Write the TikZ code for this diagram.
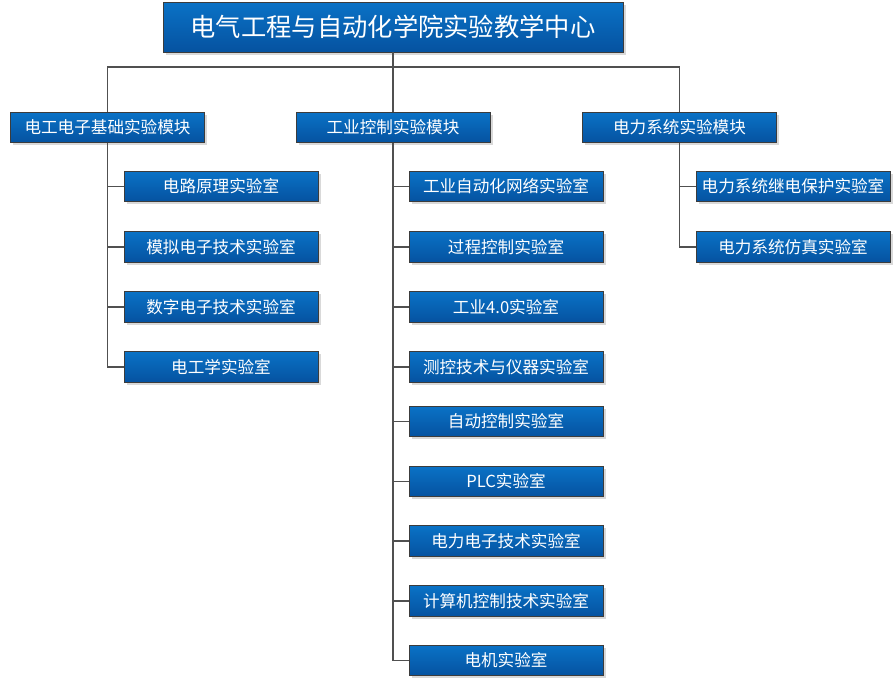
\documentclass[tikz,border=0pt]{standalone}
\usepackage{fontspec}
\newfontfamily\cjk{Noto Sans CJK SC}
\usetikzlibrary{shadows}
\definecolor{boxtop}{HTML}{0A72C6}
\definecolor{boxbot}{HTML}{0552A0}
\definecolor{boxline}{HTML}{3C3C3C}
\definecolor{conn}{HTML}{505050}
\tikzset{
  box/.style={draw=boxline, line width=0.9pt, top color=boxtop, bottom color=boxbot,
    text=white, inner sep=0pt, minimum width=194pt, minimum height=30.5pt,
    font=\cjk\fontsize{16.6}{18}\selectfont,
    drop shadow={shadow xshift=2.5pt, shadow yshift=-2.5pt, fill=black!25, opacity=0.6}},
  titlebox/.style={box, minimum width=460pt, minimum height=50pt,
    font=\cjk\fontsize{25.3}{28}\selectfont},
  conn/.style={draw=conn, line width=1.2pt}
}
\begin{document}
\begin{tikzpicture}[x=1pt,y=-1pt]
\useasboundingbox (0,0) rectangle (896,688);
% title
\node[titlebox] (top) at (393,27) {电气工程与自动化学院实验教学中心};
% modules
\node[box] (m1) at (107.5,127.5) {电工电子基础实验模块};
\node[box] (m2) at (393,127.5) {工业控制实验模块};
\node[box] (m3) at (679.5,127.5) {电力系统实验模块};
% left children
\node[box] (a1) at (221,186.5) {电路原理实验室};
\node[box] (a2) at (221,247) {模拟电子技术实验室};
\node[box] (a3) at (221,307) {数字电子技术实验室};
\node[box] (a4) at (221,367) {电工学实验室};
% middle children
\node[box] (b1) at (506,186.5) {工业自动化网络实验室};
\node[box] (b2) at (506,247) {过程控制实验室};
\node[box] (b3) at (506,307) {工业4.0实验室};
\node[box] (b4) at (506,367) {测控技术与仪器实验室};
\node[box] (b5) at (506,421.5) {自动控制实验室};
\node[box] (b6) at (506,481.5) {PLC实验室};
\node[box] (b7) at (506,541) {电力电子技术实验室};
\node[box] (b8) at (506,601) {计算机控制技术实验室};
\node[box] (b9) at (506,660.5) {电机实验室};
% right children
\node[box] (c1) at (793,186.5) {电力系统继电保护实验室};
\node[box] (c2) at (793,247) {电力系统仿真实验室};
% connectors
\coordinate (bus) at (393,67);
\draw[conn] (top.south) -- (m2.north);
\draw[conn] (bus) -| (m1.north);
\draw[conn] (bus) -| (m3.north);
\foreach \n in {a1,a2,a3,a4} \draw[conn] (m1.south) |- (\n.west);
\foreach \n in {b1,b2,b3,b4,b5,b6,b7,b8,b9} \draw[conn] (m2.south) |- (\n.west);
\foreach \n in {c1,c2} \draw[conn] (m3.south) |- (\n.west);
\end{tikzpicture}
\end{document}
